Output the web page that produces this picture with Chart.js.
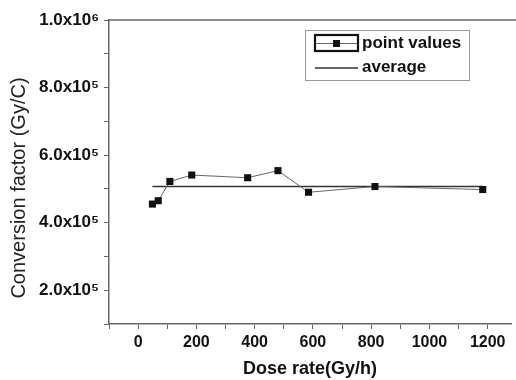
<!DOCTYPE html>
<html>
<head>
<meta charset="utf-8">
<script src="https://cdn.jsdelivr.net/npm/chart.js@4/dist/chart.umd.min.js"></script>
<style>
  body { margin: 0; background: #fff; overflow: hidden; }
</style>
</head>
<body>
<canvas id="conversion-chart" width="516" height="380"></canvas>
<script>
// values
const doseRate = [49, 69, 109, 184, 376, 480, 585, 813, 1183];
const convFactor = [455000, 465000, 522000, 541000, 533000, 554000, 490000, 507000, 498000];
const averageValue = 507000;
// x tick marks (every 100), labels only on multiples of 200
const xTicks = [-100, 0, 100, 200, 300, 400, 500, 600, 700, 800, 900, 1000, 1100, 1200];
const supers = { '5': '\u2075', '6': '\u2076' };

const FONT = '"Liberation Sans", Arial, sans-serif';

const formatY = v => {
    let exp = Math.floor(Math.log10(v));
    let mant = (v / Math.pow(10, exp)).toFixed(1);
    return mant + 'x10' + supers[exp];
};

const formatX = v => {
    let r = Math.round(v);
    return (r % 200 === 0 && r >= 0) ? String(r) : '';
};

// top frame line, y axis title and the boxed legend
const extras = {
    id: 'extras',
    afterDraw(chart) {
        const ctx = chart.ctx;
        const area = chart.chartArea;
        ctx.save();

        ctx.strokeStyle = '#666';
        ctx.lineWidth = 1.5;
        ctx.beginPath();
        ctx.moveTo(area.left, area.top);
        ctx.lineTo(chart.width, area.top);
        ctx.stroke();

        // y title
        ctx.save();
        ctx.translate(19, 188);
        ctx.rotate(-Math.PI / 2);
        ctx.fillStyle = '#222';
        ctx.font = '20px ' + FONT;
        ctx.textAlign = 'center';
        ctx.textBaseline = 'middle';
        ctx.fillText('Conversion factor (Gy/C)', 0, 0);
        ctx.restore();

        // legend
        ctx.strokeStyle = '#999';
        ctx.lineWidth = 1;
        ctx.strokeRect(305.5, 30.5, 164, 50);

        ctx.strokeStyle = '#111';
        ctx.lineWidth = 2.2;
        ctx.strokeRect(315, 35, 43, 16);
        ctx.strokeStyle = '#666';
        ctx.lineWidth = 1;
        ctx.beginPath();
        ctx.moveTo(316, 43.5);
        ctx.lineTo(357, 43.5);
        ctx.stroke();
        ctx.fillStyle = '#111';
        ctx.fillRect(333, 40, 7, 7);

        ctx.strokeStyle = '#333';
        ctx.lineWidth = 1.5;
        ctx.beginPath();
        ctx.moveTo(315, 68);
        ctx.lineTo(358, 68);
        ctx.stroke();

        ctx.fillStyle = '#111';
        ctx.font = 'bold 17px ' + FONT;
        ctx.textAlign = 'left';
        ctx.textBaseline = 'middle';
        ctx.fillText('point values', 362, 43);
        ctx.fillText('average', 362, 67);
        ctx.restore();
    }
};

const canvas = document.getElementById('conversion-chart');

new Chart(canvas, {
    type: 'line',
    data: {
        datasets: [{
            label: 'point values',
            data: doseRate.map((x, i) => ({ x: x, y: convFactor[i] })),
            borderColor: '#666',
            borderWidth: 1,
            pointStyle: 'rect',
            pointRadius: 5,
            pointBackgroundColor: '#111',
            pointBorderColor: '#111',
            pointBorderWidth: 0,
            tension: 0
        }, {
            label: 'average',
            data: [
                { x: doseRate[0], y: averageValue },
                { x: doseRate[doseRate.length - 1], y: averageValue }
            ],
            borderColor: '#333',
            borderWidth: 1.6,
            pointRadius: 0
        }]
    },
    options: {
        responsive: false,
        animation: false,
        layout: { padding: { top: 20, right: 0, left: 0, bottom: 0 } },
        plugins: {
            legend: { display: false },
            tooltip: { enabled: false }
        },
        scales: {
            x: {
                type: 'linear',
                min: -100,
                max: 1280,
                afterBuildTicks: s => { s.ticks = xTicks.map(v => ({ value: v })); },
                afterFit: s => { s.height = 56; s.paddingRight = 0; s.paddingLeft = 0; },
                border: { color: '#666', width: 1.5 },
                grid: { drawOnChartArea: false, tickLength: 5, color: '#666', tickWidth: 1 },
                ticks: {
                    autoSkip: false,
                    maxRotation: 0,
                    padding: 4,
                    color: '#111',
                    font: { family: FONT, size: 16, weight: 'bold' },
                    callback: formatX
                },
                title: {
                    display: true,
                    text: 'Dose rate(Gy/h)',
                    color: '#111',
                    font: { family: FONT, size: 18, weight: 'bold' },
                    padding: { top: 0, bottom: 0 }
                }
            },
            y: {
                min: 100000,
                max: 1000000,
                afterFit: s => { s.width = 109; },
                border: { color: '#666', width: 1.5 },
                grid: { drawOnChartArea: false, tickLength: 5, color: '#666', tickWidth: 1 },
                ticks: {
                    stepSize: 100000,
                    autoSkip: false,
                    padding: 5,
                    color: '#111',
                    font: { family: FONT, size: 17, weight: 'bold' },
                    callback: v => (Math.round(v / 100000) % 2 === 0) ? formatY(v) : ''
                }
            }
        }
    },
    plugins: [extras]
});
</script>
</body>
</html>
